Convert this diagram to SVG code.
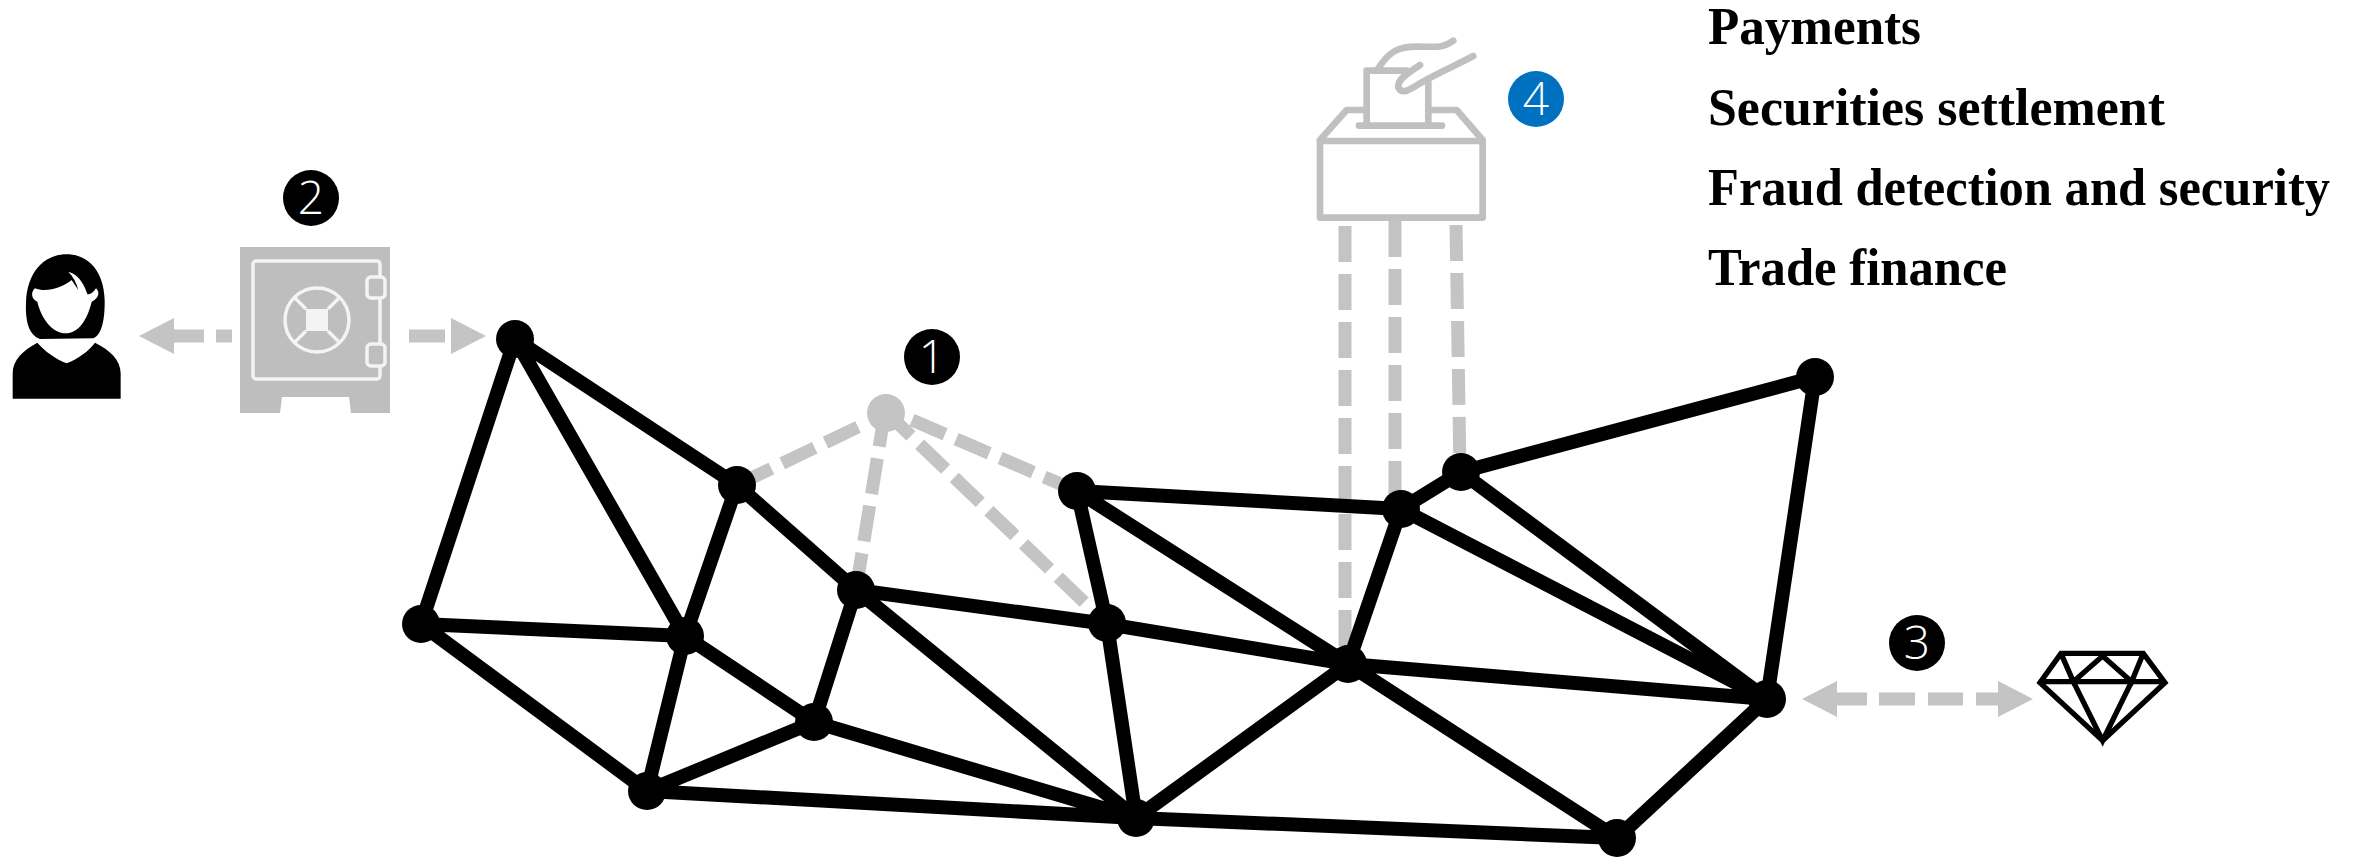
<svg xmlns="http://www.w3.org/2000/svg" width="2362" height="860" viewBox="0 0 2362 860">
<style>
.edge{stroke:#000;stroke-width:14;fill:none}
.dash{stroke:#c4c4c4;stroke-width:13;fill:none;stroke-dasharray:36 12}
.n{fill:#000}
.ghost{fill:#c4c4c4}
.ol{fill:none;stroke:#c0c0c0;stroke-width:20;stroke-linecap:round;stroke-linejoin:round}
.sl{fill:none;stroke:#f4f4f4;stroke-width:3.5}
.badge{fill:#000}
.num{font-family:"Open Sans","Liberation Sans",sans-serif;font-weight:300;font-size:46px;fill:#fff;text-anchor:middle}
.lbl{font-family:"Liberation Serif",serif;font-weight:700;font-size:52px;fill:#000}
</style>
<rect width="2362" height="860" fill="#fff"/>
<g id="connectors">
<path class="dash" d="M858 427L737 485M885 411L856 590M885 411L1107 624M912 420L1077 491"/>
<path class="dash" d="M1345 226V664M1395 221V509M1456 225L1460 472"/>
<path class="edge" d="M515 339L421 624M515 339L685 636M515 339L737 485M737 485L685 636M737 485L856 590M421 624L685 636M421 624L647 791M685 636L647 791M685 636L814 722M856 590L814 722M856 590L1136 818M856 590L1107 624M814 722L647 791M814 722L1136 818M647 791L1136 818M1077 491L1107 624M1077 491L1401 509M1077 491L1348 664M1107 624L1348 664M1107 624L1136 818M1348 664L1401 509M1348 664L1767 699M1348 664L1136 818M1348 664L1617 838M1401 509L1461 472M1401 509L1767 699M1461 472L1815 377M1461 472L1767 699M1815 377L1767 699M1767 699L1617 838M1136 818L1617 838"/>
<g fill="#c4c4c4">
<path d="M139 336L174 318V329.500H204V342.500H174V354Z"/><rect x="216" y="329.500" width="16" height="13"/>
<rect x="409" y="329.500" width="36" height="13"/><path d="M451 318L486 336L451 354Z"/>
<path d="M1802 699L1837 681V692.500H1867V705.500H1837V717Z"/><rect x="1879" y="692.500" width="36" height="13"/><rect x="1928" y="692.500" width="35" height="13"/><path d="M1976 692.500H1998V681L2033 699L1998 717V705.500H1976Z"/>
</g>
</g>
<g id="hub"><circle class="ghost" cx="886" cy="413" r="19"/></g>
<g id="net-nodes">
<circle class="n" cx="515" cy="339" r="19"/><circle class="n" cx="737" cy="485" r="19"/><circle class="n" cx="421" cy="624" r="19"/><circle class="n" cx="685" cy="636" r="19"/><circle class="n" cx="856" cy="590" r="19"/><circle class="n" cx="814" cy="722" r="19"/><circle class="n" cx="647" cy="791" r="19"/><circle class="n" cx="1077" cy="491" r="19"/><circle class="n" cx="1107" cy="623" r="19"/><circle class="n" cx="1348" cy="664" r="19"/><circle class="n" cx="1401" cy="509" r="19"/><circle class="n" cx="1461" cy="472" r="19"/><circle class="n" cx="1815" cy="377" r="19"/><circle class="n" cx="1767" cy="699" r="19"/><circle class="n" cx="1617" cy="838" r="19"/><circle class="n" cx="1136" cy="818" r="19"/>
</g>
<g id="person" transform="translate(0,160) scale(.3333)">
<path d="M200 283C130 283 80 340 78 430C76 480 85 525 120 537L280 535C305 525 315 480 314 420C312 340 270 283 200 283Z"/>
<path fill="#fff" d="M105 385C92 395 93 418 112 425C125 480 160 520 197 520C235 520 262 480 275 425C298 415 300 395 288 385C280 398 270 405 262 402C255 380 240 345 205 335C220 350 230 370 235 390L215 360C190 380 140 400 105 385Z"/>
<path d="M112 548C70 570 38 600 38 640V716H362V640C362 600 330 570 285 548C270 570 230 600 200 610C170 600 130 570 112 548Z"/>
</g>
<g id="safe">
<path fill="#bebebe" d="M240 247H390V413H351L349 397H282L280 413H240Z"/>
<rect class="sl" x="253" y="261" width="127" height="118" rx="3"/>
<rect class="sl" x="367" y="277" width="18" height="21" rx="4" style="fill:#bebebe"/>
<rect class="sl" x="367" y="344" width="18" height="22" rx="4" style="fill:#bebebe"/>
<circle class="sl" cx="317" cy="320" r="32"/>
<rect x="306" y="309" width="22" height="22" fill="#f4f4f4"/>
<path class="sl" d="M306 309L295 298M328 309L339 298M306 331L295 342M328 331L339 342"/>
</g>
<g id="ballot" transform="translate(1250,0) scale(.3333)">
<rect class="ol" x="210" y="423" width="488" height="230"/>
<path class="ol" d="M210 420L290 330H345M540 330H620L698 420M350 370V212H470M535 370V245M327 377H576M385 205C420 150 450 140 500 140C560 140 580 145 610 122M510 195C490 210 440 235 445 262C455 285 480 270 510 250C560 220 620 195 670 168"/>
</g>
<g id="diamond" transform="translate(1780,600) scale(.3333)" fill="none" stroke="#000" stroke-width="16" stroke-linejoin="miter">
<path d="M843 160H1090L1155 248L968 422L780 248ZM780 245H1155M843 160L880 245L968 168L1055 245L1090 160M880 245L968 422L1055 245"/>
</g>
<g id="badge-1"><circle class="badge" cx="932" cy="357" r="28"/><text class="num" x="932" y="373">1</text></g>
<g id="badge-2"><circle class="badge" cx="311" cy="198" r="28"/><text class="num" x="311" y="214">2</text></g>
<g id="badge-3"><circle class="badge" cx="1917" cy="643" r="28"/><text class="num" x="1917" y="659">3</text></g>
<g id="badge-4"><circle cx="1536" cy="99" r="28" fill="#0070c0"/><text class="num" x="1536" y="115">4</text></g>
<g id="labels">
<text class="lbl" x="1708" y="44" textLength="213" lengthAdjust="spacingAndGlyphs">Payments</text>
<text class="lbl" x="1708" y="125" textLength="457" lengthAdjust="spacingAndGlyphs">Securities settlement</text>
<text class="lbl" x="1708" y="205" textLength="622" lengthAdjust="spacingAndGlyphs">Fraud detection and security</text>
<text class="lbl" x="1708" y="285" textLength="299" lengthAdjust="spacingAndGlyphs">Trade finance</text>
</g>
</svg>
